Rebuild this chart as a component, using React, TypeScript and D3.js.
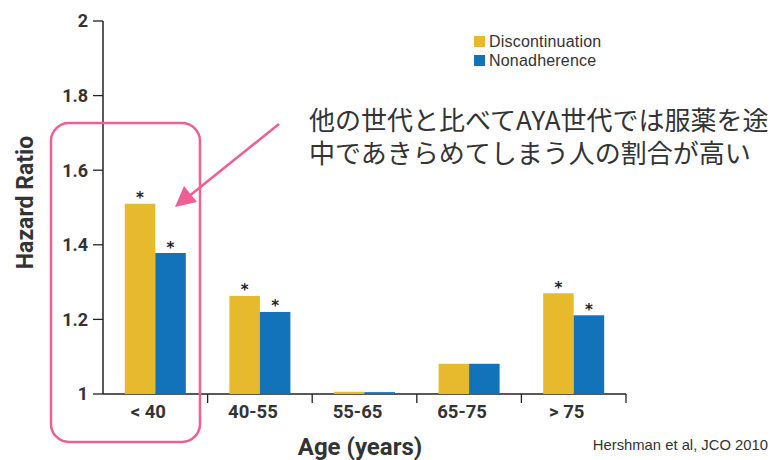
import React from 'react';
import * as d3 from 'd3';

const categories = ['< 40', '40-55', '55-65', '65-75', '> 75'];
const discontinuation = [1.51, 1.263, 1.006, 1.081, 1.27];
const nonadherence = [1.378, 1.22, 1.005, 1.081, 1.211];
const significant = [true, true, false, false, true];
const yTicks = [1, 1.2, 1.4, 1.6, 1.8, 2];
const seriesNames = ['Discontinuation', 'Nonadherence'];
const colors = ['#E6BA2C', '#1273BA'];

const W = 781;
const H = 460;
const margin = { left: 103, right: 155, top: 21, bottom: 66 };
const condensed = "Roboto, 'Liberation Sans', sans-serif";
const pink = '#EE5F96';

export default function App() {
  const x = d3.scaleBand<string>()
    .domain(categories)
    .range([margin.left, W - margin.right])
    .paddingInner(0)
    .paddingOuter(0);
  const y = d3.scaleLinear().domain([1, 2]).range([H - margin.bottom, margin.top]);
  const barW = 30.5;
  const series = [discontinuation, nonadherence];
  const y0 = y(1);

  return (
    <svg width={W} height={H} style={{ position: 'absolute', left: 0, top: 0, background: '#fff' }}>
      {/* y axis */}
      <line x1={margin.left} x2={margin.left} y1={y(2)} y2={y0} stroke="#222" strokeWidth={1.5} />
      {yTicks.map(t => (
        <g key={t}>
          <line x1={margin.left - 10} x2={margin.left} y1={y(t)} y2={y(t)} stroke="#222" strokeWidth={1.3} />
          <text x={margin.left - 15} y={y(t)} dy="0.36em" textAnchor="end" fontFamily={condensed}
            fontWeight="bold" fontSize={18} fill="#333">{d3.format('~g')(t)}</text>
        </g>
      ))}
      {/* x axis */}
      <line x1={margin.left} x2={W - margin.right} y1={y0} y2={y0} stroke="#222" strokeWidth={1.5} />
      {categories.map((c, i) => {
        const xx = margin.left + x.bandwidth() * (i + 1);
        return <line key={c} x1={xx} x2={xx} y1={y0} y2={y0 + 9} stroke="#222" strokeWidth={1.3} />;
      })}
      {categories.map(c => (
        <text key={c} x={(x(c) as number) + x.bandwidth() / 2 - 7} y={y0 + 24} textAnchor="middle"
          fontFamily={condensed} fontWeight="bold" fontSize={18.5} fill="#333">{c}</text>
      ))}
      {/* bars */}
      {categories.map((c, i) => {
        const cx = (x(c) as number) + x.bandwidth() / 2;
        return series.map((s, k) => {
          const bx = cx - barW + k * barW;
          return (
            <g key={c + k}>
              <rect x={bx} y={y(s[i])} width={barW} height={y0 - y(s[i])} fill={colors[k]} />
              {significant[i] && (
                <text x={bx + barW / 2} y={y(s[i]) - 0.5} textAnchor="middle" fontFamily="DejaVu Sans"
                  fontWeight="bold" fontSize={15} fill="#222">*</text>
              )}
            </g>
          );
        });
      })}
      {/* axis titles */}
      <text transform={`translate(33,${(y(2) + y0) / 2 - 5}) rotate(-90)`} textAnchor="middle"
        fontFamily={condensed} fontWeight="bold" fontSize={23} fill="#333">Hazard Ratio</text>
      <text x={360} y={455} textAnchor="middle"
        fontFamily={condensed} fontWeight="bold" fontSize={24} fill="#333">Age (years)</text>
      {/* legend */}
      {seriesNames.map((n, k) => (
        <g key={n} transform={`translate(474,${36 + k * 19})`}>
          <rect width={11} height={11} fill={colors[k]} />
          <text x={15} y={11} fontFamily="'Liberation Sans', Arial, sans-serif" fontSize={16} letterSpacing={0.2} fill="#333">{n}</text>
        </g>
      ))}
      {/* annotation */}
      <text x={309} y={130} fontFamily="'Noto Sans CJK JP', sans-serif" fontSize={26} fill="#333">他の世代と比べてAYA世代では服薬を途</text>
      <text x={309} y={163} fontFamily="'Noto Sans CJK JP', sans-serif" fontSize={26} fill="#333">中であきらめてしまう人の割合が高い</text>
      <rect x={51} y={123} width={149} height={319} rx={18} ry={18} fill="none" stroke={pink} strokeWidth={2.5} />
      <line x1={279} y1={124} x2={188} y2={197} stroke={pink} strokeWidth={2.5} />
      <polygon points="175,207 184,186 197,202" fill={pink} />
      <text x={768} y={450} textAnchor="end" fontFamily="'Liberation Sans', Arial, sans-serif" fontSize={14.8} fill="#333">Hershman et al, JCO 2010</text>
    </svg>
  );
}
